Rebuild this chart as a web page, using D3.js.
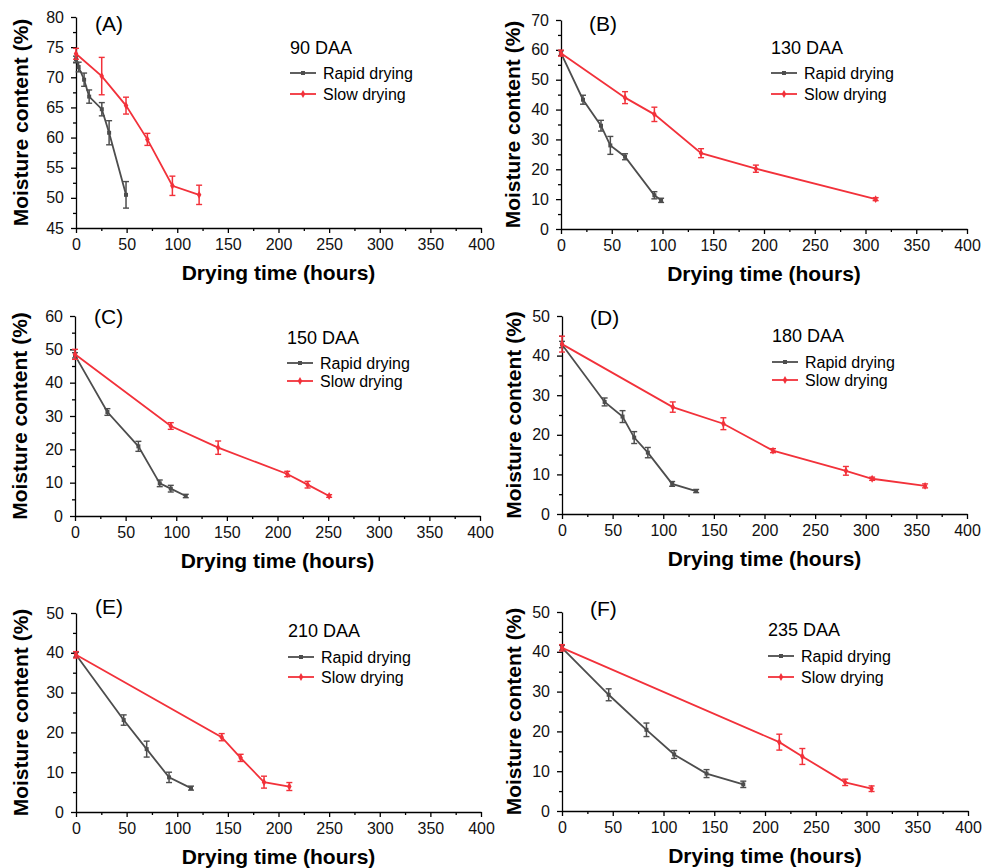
<!DOCTYPE html>
<html>
<head>
<meta charset="utf-8">
<script src="https://cdn.jsdelivr.net/npm/d3@7"></script>
<style>
  html, body { margin: 0; padding: 0; background: #fff; }
  svg { display: block; font-family: "Liberation Sans", Arial, sans-serif; }
  .axis path, .axis line { stroke: #000; stroke-width: 1.3; }
  .axis text { font-size: 16px; fill: #111; }
</style>
</head>
<body>
<div id="chart"></div>
<script>
// [hours, moisture %, error]
const rapidA = [[0, 73, 0.5], [2.6, 71.7, 0.8], [8, 69.6, 1.1], [13, 66.8, 1.1], [25.5, 64.7, 1.1], [32.7, 60.8, 2], [49.4, 50.5, 2.2]];
const slowA = [[0, 73.9, 0.9], [25.4, 70.2, 3.1], [49.4, 65.3, 1.4], [70.5, 59.7, 1], [95.2, 52, 1.6], [121.6, 50.5, 1.6]];
const rapidB = [[0, 58.9, 0.8], [21.7, 43.3, 1.5], [39.4, 34.6, 1.8], [48.6, 28, 3], [63.1, 24.2, 1], [92, 11.3, 1.2], [98.6, 9.6, 0.7]];
const slowB = [[0, 58.9, 1], [63.1, 44, 2], [92, 38.4, 2.4], [138, 25.4, 1.5], [192, 20.2, 1.2], [310, 10, 0.5]];
const rapidC = [[0, 48.2, 0.8], [32, 31.2, 1], [62.6, 20.9, 1.5], [83.7, 9.8, 1], [94.6, 8.2, 1], [109.4, 6, 0.5]];
const slowC = [[0, 48.5, 1.5], [94.6, 27, 1], [141.4, 20.5, 2], [209.6, 12.6, 0.8], [229.7, 9.4, 1], [251, 6, 0.4]];
const rapidD = [[0, 42.8, 0.8], [42.1, 28.3, 1], [59.8, 24.6, 1.5], [71.3, 19.3, 1.5], [84.8, 15.5, 1.3], [108.8, 7.6, 0.6], [132.5, 5.8, 0.4]];
const slowD = [[0, 42.9, 2], [109.4, 27, 1.3], [159.4, 22.8, 1.5], [208.4, 16, 0.5], [280.4, 10.9, 1.1], [306.3, 8.9, 0.4], [358.6, 7.1, 0.5]];
const rapidE = [[0, 39.5, 0.6], [47.1, 23.1, 1.3], [69.8, 15.8, 2], [91.9, 8.7, 1.3], [113.6, 6, 0.5]];
const slowE = [[0, 39.5, 0.8], [143.9, 18.8, 0.9], [162.6, 13.6, 0.9], [185.7, 7.5, 1.5], [210.7, 6.4, 1]];
const rapidF = [[0, 41, 0.6], [46, 29.2, 1.5], [83.2, 20.4, 1.7], [110.5, 14.2, 1], [142.4, 9.4, 1], [178.6, 6.7, 0.8]];
const slowF = [[0, 41, 0.8], [214.1, 17.3, 2], [236.8, 13.7, 2], [279, 7.2, 0.8], [305, 5.6, 0.7]];

const letters = ["(A)", "(B)", "(C)", "(D)", "(E)", "(F)"];
const daaLabels = ["90 DAA", "130 DAA", "150 DAA", "180 DAA", "210 DAA", "235 DAA"];
const yDomains = [[45, 80], [0, 70], [0, 60], [0, 50], [0, 50], [0, 50]];
const yStep = [5, 10, 10, 10, 10, 10];
const xTicks = [0, 50, 100, 150, 200, 250, 300, 350, 400];
const seriesNames = ["Rapid drying", "Slow drying"];
const rapidSets = [rapidA, rapidB, rapidC, rapidD, rapidE, rapidF];
const slowSets = [slowA, slowB, slowC, slowD, slowE, slowF];

// layout of each panel (pixels)
const boxes = [
  { x0: 76, x1: 481, y0: 17, y1: 228, ytl: 48, lb: 31, dx: 214, dy: 37, r1: 56, r2: 77 },
  { x0: 561, x1: 967, y0: 20, y1: 229, ytl: 41, lb: 31, dx: 210, dy: 34, r1: 53, r2: 74 },
  { x0: 75, x1: 480, y0: 316, y1: 516, ytl: 48, lb: 324, dx: 212, dy: 28, r1: 47, r2: 65 },
  { x0: 562, x1: 967, y0: 316, y1: 514, ytl: 41, lb: 325, dx: 210, dy: 26, r1: 46, r2: 64 },
  { x0: 76, x1: 481, y0: 613, y1: 812, ytl: 48, lb: 614, dx: 212, dy: 24, r1: 44, r2: 64 },
  { x0: 562, x1: 968, y0: 612, y1: 811, ytl: 41, lb: 616, dx: 206, dy: 24, r1: 44, r2: 65 }
];

const GRAY = "#4d4d4d", RED = "#f2313a";
const W = 982, H = 868;
const svg = d3.select("#chart").append("svg").attr("width", W).attr("height", H);

boxes.forEach((b, i) => {
  const g = svg.append("g");
  const x = d3.scaleLinear().domain([0, 400]).range([b.x0, b.x1]);
  const y = d3.scaleLinear().domain(yDomains[i]).range([b.y1, b.y0]);
  const [lo, hi] = yDomains[i];
  const yt = d3.range(lo, hi + 0.001, yStep[i]);
  const ytMinor = d3.range(lo + yStep[i] / 2, hi, yStep[i]);
  const xtMinor = d3.range(25, 400, 50);

  // minor ticks
  g.append("g").attr("class", "axis").attr("transform", `translate(0,${b.y1})`)
    .call(d3.axisBottom(x).tickValues(xtMinor).tickSize(3).tickFormat(""))
    .select(".domain").remove();
  g.append("g").attr("class", "axis").attr("transform", `translate(${b.x0},0)`)
    .call(d3.axisLeft(y).tickValues(ytMinor).tickSize(3).tickFormat(""))
    .select(".domain").remove();

  g.append("g").attr("class", "axis").attr("transform", `translate(0,${b.y1})`)
    .call(d3.axisBottom(x).tickValues(xTicks).tickSize(5).tickSizeOuter(0).tickPadding(6));
  g.append("g").attr("class", "axis").attr("transform", `translate(${b.x0},0)`)
    .call(d3.axisLeft(y).tickValues(yt).tickSize(5).tickSizeOuter(0).tickPadding(7));

  g.append("text").attr("transform", `translate(${b.x0 - b.ytl},${(b.y0 + b.y1) / 2}) rotate(-90)`)
    .attr("text-anchor", "middle").style("font-size", "21px").style("font-weight", "bold")
    .text("Moisture content (%)");
  g.append("text").attr("x", (b.x0 + b.x1) / 2).attr("y", b.y1 + 52)
    .attr("text-anchor", "middle").style("font-size", "21px").style("font-weight", "bold")
    .text("Drying time (hours)");

  g.append("text").attr("x", b.x0 + (i % 2 ? 28 : 19)).attr("y", b.lb)
    .style("font-size", "21px").text(letters[i]);
  g.append("text").attr("x", b.x0 + b.dx).attr("y", b.y0 + b.dy)
    .style("font-size", "18px").text(daaLabels[i]);

  const line = d3.line().x((d) => x(d[0])).y((d) => y(d[1]));
  [[rapidSets[i], GRAY, "sq"], [slowSets[i], RED, "dm"]].forEach(([data, col, shape], k) => {
    const s = g.append("g");
    s.append("path").datum(data).attr("d", line).attr("fill", "none")
      .attr("stroke", col).attr("stroke-width", 1.8);
    const eb = s.selectAll(".eb").data(data).join("g");
    eb.append("line").attr("x1", (d) => x(d[0])).attr("x2", (d) => x(d[0]))
      .attr("y1", (d) => y(d[1] - d[2])).attr("y2", (d) => y(d[1] + d[2]))
      .attr("stroke", col).attr("stroke-width", 1.5);
    [-1, 1].forEach((sg) => {
      eb.append("line").attr("x1", (d) => x(d[0]) - 3).attr("x2", (d) => x(d[0]) + 3)
        .attr("y1", (d) => y(d[1] + sg * d[2])).attr("y2", (d) => y(d[1] + sg * d[2]))
        .attr("stroke", col).attr("stroke-width", 1.4);
    });
    const sym = d3.symbol().type(shape === "sq" ? d3.symbolSquare : d3.symbolDiamond).size(shape === "sq" ? 16 : 18);
    s.selectAll(".mk").data(data).join("path")
      .attr("transform", (d) => `translate(${x(d[0])},${y(d[1])})`)
      .attr("d", sym).attr("fill", col);

    // legend row
    const ly = b.y0 + (k === 0 ? b.r1 : b.r2);
    const lx = b.x0 + b.dx;
    g.append("line").attr("x1", lx).attr("x2", lx + 26).attr("y1", ly).attr("y2", ly)
      .attr("stroke", col).attr("stroke-width", 1.8);
    g.append("path").attr("transform", `translate(${lx + 13},${ly})`).attr("d", sym).attr("fill", col);
    g.append("text").attr("x", lx + 33).attr("y", ly).attr("dy", "0.35em")
      .style("font-size", "16px").text(seriesNames[k]);
  });
});
</script>
</body>
</html>
